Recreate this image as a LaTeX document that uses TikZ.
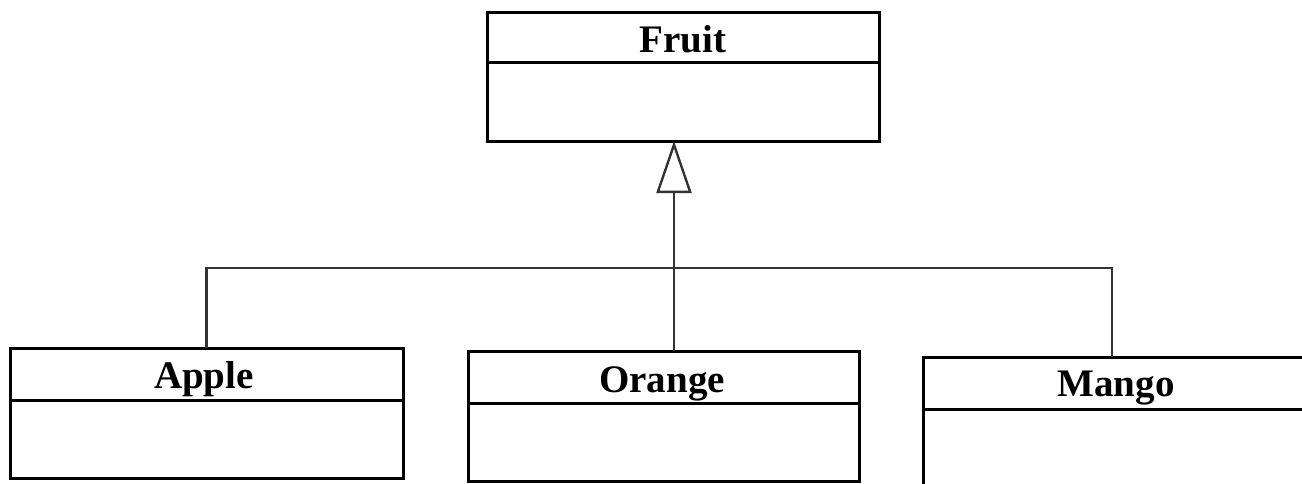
\documentclass[tikz,border=0pt]{standalone}
\usepackage{fontspec}
\setmainfont{Liberation Serif}
\usetikzlibrary{arrows.meta}

\tikzset{
  classbox/.style={draw=black, line width=3pt, rectangle, inner sep=0pt, outer sep=0pt},
  divider/.style={draw=black, line width=3pt},
  classname/.style={anchor=base, inner sep=0pt, font=\fontsize{39}{39}\selectfont\bfseries},
  link/.style={draw=black!80, line width=2.4pt},
  inherit/.style={link, -{Triangle[open, length=52pt, width=35pt, line width=2.4pt]}},
}

\begin{document}
\begin{tikzpicture}[x=1pt, y=-1pt]
  \useasboundingbox (0,0) rectangle (1302,483);
  \clip (0,0) rectangle (1302,483);

  % superclass
  \node[classbox, minimum width=392pt, minimum height=129pt] (fruit) at (683,76.5) {};
  \draw[divider] (fruit.west |- 0,62) -- (fruit.east |- 0,62);
  \node[classname] (fruitname) at (683,52) {Fruit};

  % subclasses
  \node[classbox, minimum width=393pt, minimum height=130pt] (apple) at (206.5,413) {};
  \draw[divider] (apple.west |- 0,400) -- (apple.east |- 0,400);
  \node[classname] (applename) at (204,388) {Apple};

  \node[classbox, minimum width=391pt, minimum height=130pt] (orange) at (663.5,416) {};
  \draw[divider] (orange.west |- 0,403) -- (orange.east |- 0,403);
  \node[classname] (orangename) at (662,392) {Orange};

  \node[classbox, minimum width=390pt, minimum height=160pt] (mango) at (1118,437) {};
  \draw[divider] (mango.west |- 0,409) -- (mango.east |- 0,409);
  \node[classname] (mangoname) at (1116,396) {Mango};

  % generalisation tree
  \coordinate (bus) at (674,268);
  \coordinate (orangejoin) at (orange.north -| bus);
  \coordinate (mangojoin) at ([xshift=-6pt]mango.north);
  \draw[link] (apple.north) |- (bus) -| (mangojoin);
  \draw[link] (orangejoin) -- (bus);
  \draw[inherit] (bus) -- (bus |- fruit.south);
\end{tikzpicture}
\end{document}
